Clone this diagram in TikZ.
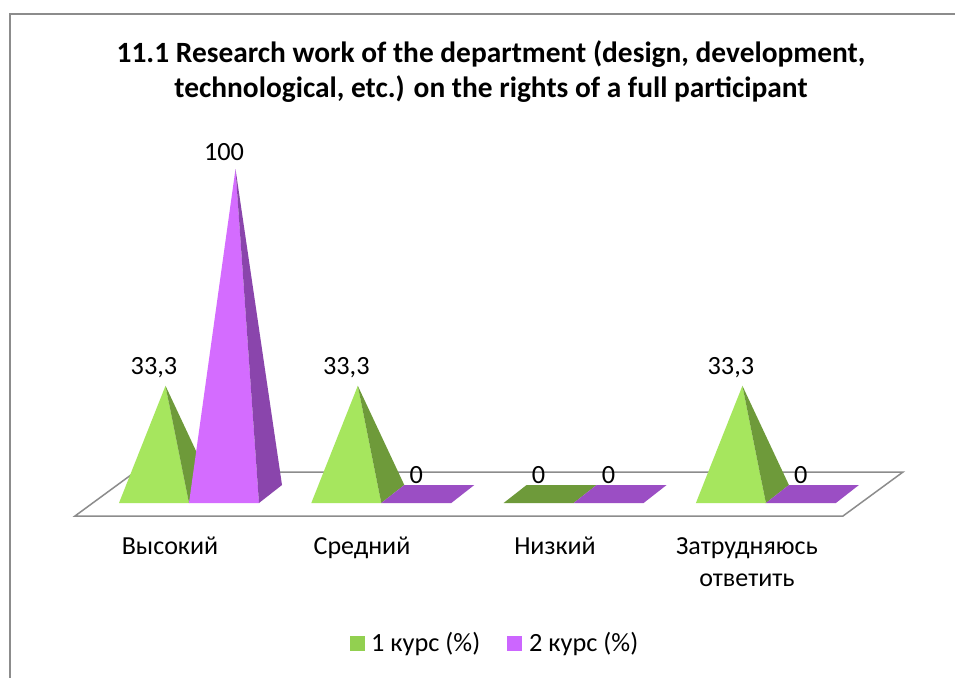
\documentclass[tikz,border=0pt]{standalone}
\usepackage{fontspec}
\setmainfont{Carlito}
\definecolor{gfront}{HTML}{A6E65E}
\definecolor{gside}{HTML}{6E9A3A}
\definecolor{gflat}{HTML}{6E9A3A}
\definecolor{pfront}{HTML}{D46CFF}
\definecolor{pside}{HTML}{8A45AC}
\definecolor{pflat}{HTML}{9B4EC4}
\definecolor{gleg}{HTML}{92D050}
\definecolor{pleg}{HTML}{CC66FF}
\definecolor{frame}{HTML}{8C8C8C}
\newcommand{\mypyr}[4]{%
  % #1 left x, #2 height, #3 front colour, #4 side colour
  \fill[#3] (#1,503) -- (#1+70,503) -- (#1+46.5,494-#2) -- cycle;
  \fill[#4] (#1+70,503) -- (#1+93,485) -- (#1+46.5,494-#2) -- cycle;
}
\newcommand{\myflat}[2]{%
  \fill[#2] (#1,503) -- (#1+70,503) -- (#1+93,485) -- (#1+23,485) -- cycle;
}
\begin{document}
\begin{tikzpicture}[x=1pt,y=-1pt,
  vlabel/.style={font=\fontsize{26.3}{30}\selectfont, anchor=center, inner sep=0pt},
  clabel/.style={font=\fontsize{26}{32}\selectfont, align=center, inner sep=0pt},
  ttl/.style={font=\bfseries\fontsize{29.4}{35}\selectfont, align=center, inner sep=0pt}]
\useasboundingbox (0,0) rectangle (955,677);
\fill[white] (0,0) rectangle (955,677);
% outer frame (runs off the picture at right and bottom)
\draw[frame, line width=1.5pt] (10,680) -- (10,14) -- (960,14);
% title
\node[ttl] (title) at (491,72) {11.1 Research work of the department (design, development,\\technological, etc.) on the rights of a full participant};
% floor
\draw[frame, line width=1.5pt, fill=white] (75,516) -- (843,516) -- (903,472) -- (135,472) -- cycle;
% category 1
\mypyr{119}{108.2}{gfront}{gside}
\mypyr{189}{325}{pfront}{pside}
% category 2
\mypyr{311.3}{108.2}{gfront}{gside}
\myflat{381.3}{pflat}
% category 3
\myflat{503.6}{gflat}
\myflat{573.6}{pflat}
% category 4
\mypyr{695.9}{108.2}{gfront}{gside}
\myflat{765.9}{pflat}
% value labels
\node[vlabel] (v1a) at (154,368) {33,3};
\node[vlabel] (v1b) at (224,152) {100};
\node[vlabel] (v2a) at (346.3,368) {33,3};
\node[vlabel] (v2b) at (416.3,475) {0};
\node[vlabel] (v3a) at (538.6,475) {0};
\node[vlabel] (v3b) at (608.6,475) {0};
\node[vlabel] (v4a) at (730.9,368) {33,3};
\node[vlabel] (v4b) at (800.9,475) {0};
% category labels
\node[clabel, anchor=north] (c1) at (170,537) {Высокий};
\node[clabel, anchor=north] (c2) at (362,537) {Средний};
\node[clabel, anchor=north] (c3) at (555,537) {Низкий};
\node[clabel, anchor=north] (c4) at (747,537) {Затрудняюсь\\ответить};
% legend
\fill[gleg] (350,636) rectangle (365,651);
\node[vlabel, anchor=west] (l1) at (371,643.5) {1 курс (\%)};
\fill[pleg] (507,636) rectangle (522,651);
\node[vlabel, anchor=west] (l2) at (529,643.5) {2 курс (\%)};
\end{tikzpicture}
\end{document}
